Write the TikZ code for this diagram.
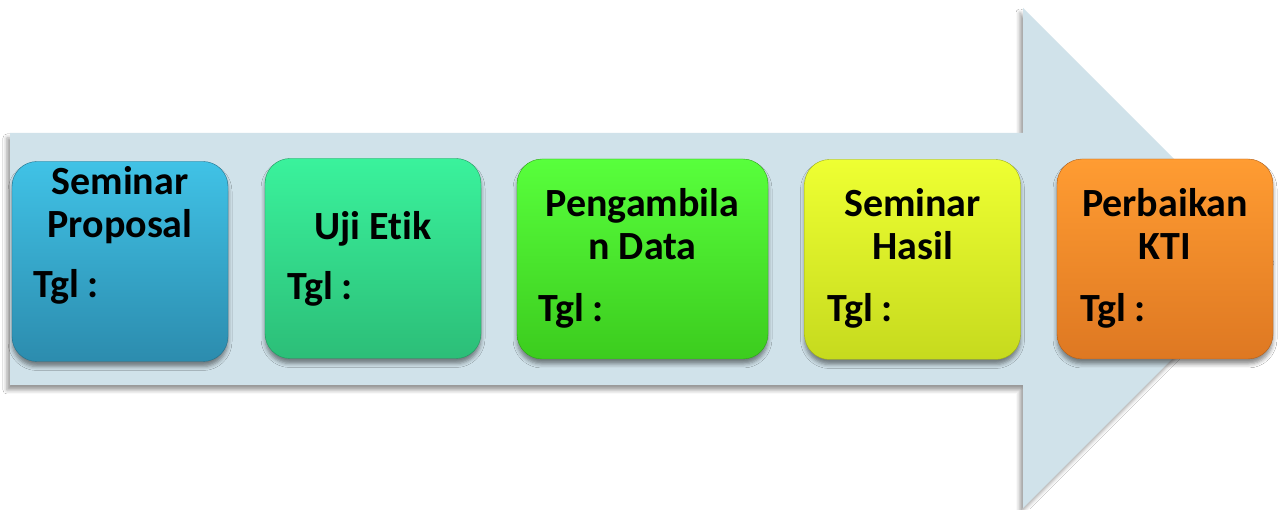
\documentclass[tikz,border=0pt]{standalone}
\usepackage{fontspec}
\setmainfont{Carlito}[Ligatures=NoCommon]
\usetikzlibrary{shadows,shadows.blur}

\definecolor{arrowbg}{HTML}{D0E2EA}
\definecolor{proptop}{HTML}{40C2E6}
\definecolor{propbot}{HTML}{2C8CAE}
\definecolor{etiktop}{HTML}{3AF29C}
\definecolor{etikbot}{HTML}{2CBE78}
\definecolor{datatop}{HTML}{58FF3C}
\definecolor{databot}{HTML}{3CCC1E}
\definecolor{hasiltop}{HTML}{EEFF32}
\definecolor{hasilbot}{HTML}{C6DA1E}
\definecolor{ktitop}{HTML}{FF9C32}
\definecolor{ktibot}{HTML}{DE7822}

\begin{document}
\begin{tikzpicture}[x=1pt,y=1pt]
\tikzset{stagebox/.style={rounded corners=25pt,minimum width=216pt,minimum height=200pt,inner sep=0pt,
  blur shadow={shadow xshift=0pt,shadow yshift=-5pt,shadow blur radius=4pt,shadow opacity=45}}}
\tikzset{stagetitle/.style={align=center,anchor=base,inner sep=0pt,font=\bfseries\fontsize{40}{43}\selectfont}}
\tikzset{tgllabel/.style={anchor=base west,inner sep=0pt,font=\bfseries\fontsize{40}{43}\selectfont}}

\useasboundingbox (0,0) rectangle (1283,509);
\fill[white] (0,0) rectangle (1283,509);

% big arrow behind the stages
\fill[arrowbg,blur shadow={shadow xshift=-3pt,shadow yshift=-5pt,shadow blur radius=4pt,shadow opacity=40}]
  (10,124) -- (10,376) -- (1023,376) -- (1023,501) -- (1273,251) -- (1023,1) -- (1023,124) -- cycle;

% stages
\node[stagebox,top color=proptop,bottom color=propbot,draw=propbot!80!black] (propbox) at (120,247.5) {};
\node[stagebox,top color=etiktop,bottom color=etikbot,draw=etikbot!80!black] (etikbox) at (373,250.5) {};
\node[stagebox,minimum width=251pt,top color=datatop,bottom color=databot,draw=databot!80!black] (databox) at (642.5,250) {};
\node[stagebox,top color=hasiltop,bottom color=hasilbot,draw=hasilbot!80!black] (hasilbox) at (912.5,249.5) {};
\node[stagebox,top color=ktitop,bottom color=ktibot,draw=ktibot!80!black] (ktibox) at (1165,250) {};

% titles: base is the last line
\node[stagetitle] (proptitle) at (120,271) {Seminar\\Proposal};
\node[stagetitle] (etiktitle) at (373,269) {Uji Etik};
\node[stagetitle] (datatitle) at (642.5,249) {Pengambila\\n Data};
\node[stagetitle] (hasiltitle) at (912.5,249) {Seminar\\Hasil};
\node[stagetitle] (ktititle) at (1165,249) {Perbaikan\\KTI};

\node[tgllabel] (proptgl) at (33,211) {Tgl :};
\node[tgllabel] (etiktgl) at (287,209) {Tgl :};
\node[tgllabel] (datatgl) at (538,187) {Tgl :};
\node[tgllabel] (hasiltgl) at (827,187) {Tgl :};
\node[tgllabel] (ktitgl) at (1080,187) {Tgl :};

\end{tikzpicture}
\end{document}
